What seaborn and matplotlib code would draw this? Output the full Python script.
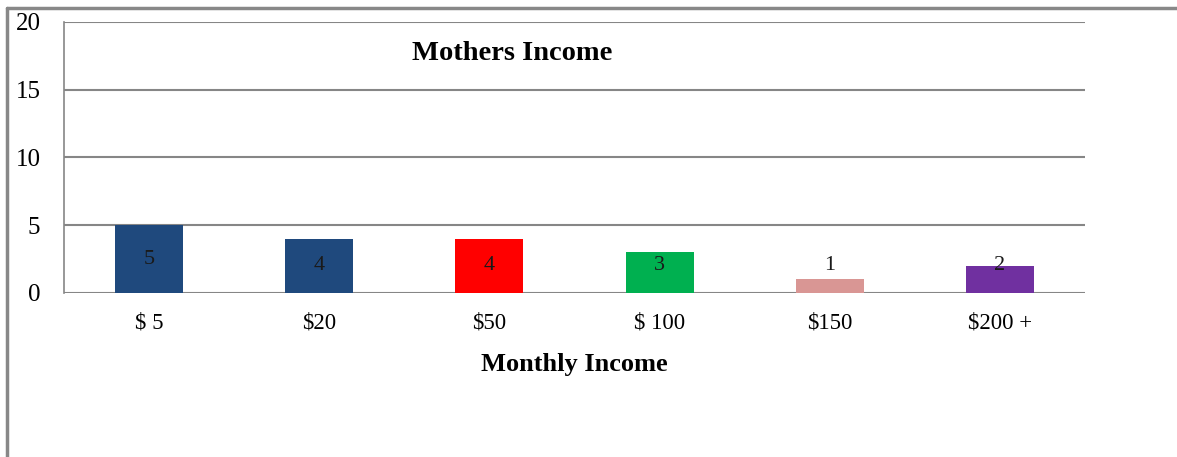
import pandas as pd
import seaborn as sns
import matplotlib.pyplot as plt
from matplotlib.lines import Line2D

# Data
incomes = ['$ 5', '$20', '$50', '$ 100', '$150', '$200 +']
mothers = [5, 4, 4, 3, 1, 2]
bar_colors = ['#1F497D', '#1F497D', '#FF0000', '#00B050', '#D99694', '#7030A0']

df = pd.DataFrame({'Income': incomes, 'Mothers': mothers})

sns.set_style('white')
plt.rcParams['font.family'] = ['Liberation Serif', 'DejaVu Serif']
plt.rcParams['text.color'] = 'black'

fig = plt.figure(figsize=(11.77, 4.57), dpi=100)
ax = fig.add_axes([0.0544, 0.3589, 0.8674, 0.593])

sns.barplot(data=df, x='Income', y='Mothers', hue='Income', palette=bar_colors,
            legend=False, width=0.4, saturation=1, linewidth=0, ax=ax)

# Value labels inside the bars
for i, v in enumerate(mothers):
    ax.text(i, max(v / 2, 2), str(v), ha='center', va='center', fontsize=16, color='#1a1a1a')

# Axes styling
ax.set_ylim(0, 20)
ax.set_yticks([0, 5, 10, 15, 20])
ax.yaxis.grid(True, color='#868686', linewidth=1.5)
ax.set_axisbelow(True)
for side in ['top', 'right', 'bottom']:
    ax.spines[side].set_visible(False)
ax.spines['left'].set_color('#868686')
ax.spines['left'].set_linewidth(1.2)
ax.tick_params(axis='y', length=0, pad=17, labelsize=18, labelcolor='black')
ax.tick_params(axis='x', length=0, pad=14, labelsize=16.5, labelcolor='black')
ax.set_ylabel('')
ax.set_xlabel('Monthly Income', fontsize=19, fontweight='bold', labelpad=14, color='black')

fig.text(512 / 1177, 1 - 54 / 457, 'Mothers Income', ha='center', va='center',
         fontsize=20.5, fontweight='bold', color='black')

# Outer frame (left and top edges)
fig.add_artist(Line2D([7 / 1177, 7 / 1177], [0, 1 - 8 / 457], color='#888888', linewidth=2.5))
fig.add_artist(Line2D([7 / 1177, 1], [1 - 8 / 457, 1 - 8 / 457], color='#888888', linewidth=2.5))

plt.savefig('out.png', dpi=100)
plt.close()
